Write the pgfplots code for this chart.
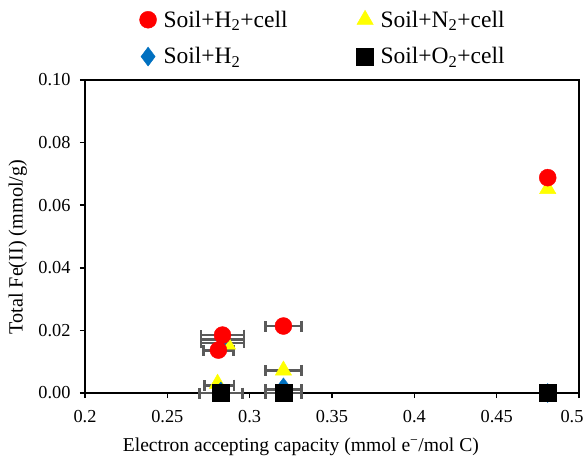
\documentclass[border=0pt]{standalone}
\usepackage{pgfplots}
\pgfplotsset{compat=1.18}
\usepackage{fontspec}
\setmainfont{Liberation Serif}
\definecolor{cred}{HTML}{FF0000}
\definecolor{cyel}{HTML}{FFFF00}
\definecolor{cblue}{HTML}{0070C0}
\definecolor{cbar}{HTML}{5A5A5A}
\begin{document}
\begin{tikzpicture}
\begin{axis}[
  scale only axis, width=494pt, height=313pt,
  xmin=0.2, xmax=0.5, ymin=0, ymax=0.1,
  xtick={0.2,0.25,...,0.45}, ytick={0,0.02,...,0.1},
  extra x ticks={0.5},
  extra x tick style={xticklabel style={xshift=-7pt}},
  axis line style={line width=1.6pt},
  tick style={line width=1.6pt, black},
  major tick length=5pt,
  tick align=outside,
  xtick pos=bottom, ytick pos=left,
  /pgf/number format/assume math mode=true,
  xticklabel={\pgfmathprintnumber[fixed]{\tick}},
  yticklabel={\pgfmathprintnumber[fixed,fixed zerofill,precision=2]{\tick}},
  yticklabel style={font=\fontsize{18.3}{20}\selectfont, xshift=-6pt},
  xticklabel style={font=\fontsize{18.3}{20}\selectfont, yshift=-9pt},
  scaled y ticks=false,
  xlabel={Electron accepting capacity (mmol e\textsuperscript{\textminus}/mol C)},
  ylabel={Total Fe(II) (mmol/g)},
  label style={font=\fontsize{19.6}{24}\selectfont},
  xlabel style={at={(axis description cs:0.437,-0.1725)}, anchor=center},
  ylabel style={at={(axis description cs:-0.136,0.466)}, anchor=center, font=\fontsize{20.2}{24}\selectfont},
  legend columns=2,
  legend style={draw=none, fill=none, font=\fontsize{23.5}{26}\selectfont,
    at={(axis description cs:0.104,1.033)}, anchor=south west,
    nodes={inner xsep=7pt},
    /tikz/every even column/.append style={column sep=62pt},
    row sep=15pt},
  legend cell align=left,
  clip=false,
]
\coordinate (sw) at (rel axis cs:0,0);
\coordinate (ne) at (rel axis cs:1,1);
% error bars
\addplot[draw=none, mark=none, forget plot,
  error bars/.cd, x dir=both, x explicit, error mark=|,
  error bar style={line width=2.8pt, cbar},
  error mark options={line width=2.8pt, cbar, mark size=5.5pt}]
  table[x=x, y=y, x error=ex]{
x y ex
0.2835 0.0185 0.013
0.2835 0.0172 0.013
0.2835 0.0160 0.013
0.2810 0.0137 0.009
0.2815 0.0025 0.009
0.2825 0.0000 0.013
0.3205 0.0214 0.011
0.3205 0.0072 0.011
0.3205 0.0010 0.011
0.3205 0.0000 0.011
};
% yellow
\addplot[only marks, mark=triangle*, mark size=9.5pt, draw=cyel, fill=cyel, forget plot] coordinates {
(0.2865,0.0155) (0.2805,0.0030) (0.3205,0.0072) (0.4810,0.0652)};
% blue
\addplot[only marks, mark=diamond*, mark size=9.5pt, draw=cblue, fill=cblue, forget plot] coordinates {
(0.2835,0.0172) (0.2825,0.0005) (0.3205,0.0018) (0.4810,0.0)};
% red
\addplot[only marks, mark=*, mark size=8.5pt, draw=cred, fill=cred, forget plot] coordinates {
(0.2835,0.0185) (0.2810,0.0137) (0.3205,0.0214) (0.4810,0.0688)};
% black
\addplot[only marks, mark=square*, mark size=8.5pt, draw=black, fill=black, forget plot] coordinates {
(0.2825,0.0) (0.3205,0.0) (0.4810,0.0)};
\addlegendimage{only marks, mark=*, mark size=8.5pt, draw=cred, fill=cred}
\addlegendentry{Soil+H\textsubscript{2}+cell}
\addlegendimage{only marks, mark=triangle*, mark size=9.5pt, draw=cyel, fill=cyel}
\addlegendentry{Soil+N\textsubscript{2}+cell}
\addlegendimage{only marks, mark=diamond*, mark size=9.5pt, draw=cblue, fill=cblue}
\addlegendentry{Soil+H\textsubscript{2}}
\addlegendimage{only marks, mark=square*, mark size=8.5pt, draw=black, fill=black}
\addlegendentry{Soil+O\textsubscript{2}+cell}
\end{axis}
\pgfresetboundingbox
\path[use as bounding box] ([shift={(-85pt,-66pt)}]sw) rectangle ([shift={(5pt,80pt)}]ne);
\end{tikzpicture}
\end{document}
